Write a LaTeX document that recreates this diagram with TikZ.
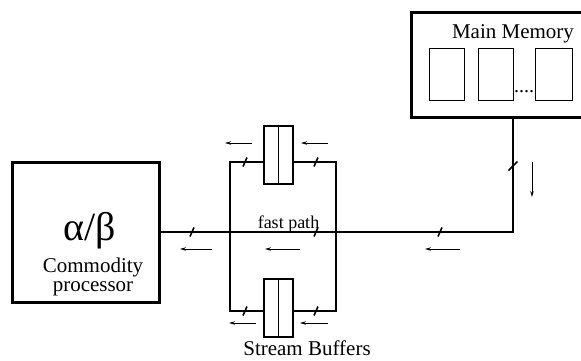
\documentclass[tikz,border=0pt]{standalone}
\usepackage{fontspec}
\setmainfont{Liberation Serif}
\usetikzlibrary{arrows.meta}
\tikzset{
  thickbox/.style={draw, line width=3pt, fill=white, inner sep=0pt},
  bufbox/.style={draw, line width=2.6pt, fill=white, inner sep=0pt, minimum width=29pt, minimum height=58pt},
  cell/.style={draw, line width=0.9pt, inner sep=0pt, minimum width=35pt, minimum height=52pt},
  wire/.style={line width=1.2pt},
  flow/.style={line width=0.9pt, -{Stealth[length=6pt,width=3.5pt]}},
  lbl/.style={inner sep=0pt, anchor=base, font=\fontsize{21}{24}\selectfont},
  hslash/.pic={\draw[line width=1.6pt] (-2,4.5)--(2,-4.5);},
  vslash/.pic={\draw[line width=1.6pt] (-4.5,4.5)--(4.5,-4.5);}
}
\begin{document}
\begin{tikzpicture}[x=1pt,y=-1pt]
\useasboundingbox (0,0) rectangle (581,360);
\clip (0,0) rectangle (581,360);
% main memory
\node[thickbox, minimum width=184pt, minimum height=105pt] (mem) at (503,64.5) {};
\node[lbl] (memt) at (513,38) {Main Memory};
\node[cell] (c1) at (446.5,74) {};
\node[cell] (c2) at (495.5,74) {};
\node[cell, minimum width=37pt] (c3) at (553.5,74) {};
\node[inner sep=0pt, anchor=base, font=\fontsize{20}{22}\selectfont] (dots) at (524,92) {....};
% commodity processor
\node[thickbox, minimum width=147pt, minimum height=140pt] (cp) at (85.5,232) {};
\node[lbl, font=\fontsize{40}{44}\selectfont] (ab) at (90,240) {α/β};
\node[lbl] (cpt1) at (93,272) {Commodity};
\node[lbl] (cpt2) at (93,291) {processor};
% wires
\coordinate (corner) at (513,232);
\draw[wire] (cp.east) -- (corner) -- (corner |- mem.south);
\coordinate (r1) at (230,162);
\coordinate (r2) at (336,162);
\coordinate (r3) at (336,311);
\coordinate (r4) at (230,311);
\draw[wire] (r1) -- (r2) -- (r3) -- (r4) -- cycle;
% stream buffers
\node[bufbox] (b1) at (278.5,155) {};
\draw[line width=0.9pt] (b1.north) -- (b1.south);
\node[bufbox] (b2) at (278.5,308) {};
\draw[line width=0.9pt] (b2.north) -- (b2.south);
\node[lbl] (sbt) at (307,355) {Stream Buffers};
\node[lbl, font=\fontsize{18}{20}\selectfont] (fp) at (288.5,228) {fast path};
% slashes
\pic at (192,232) {hslash};
\pic at (316,232) {hslash};
\pic at (440,232) {hslash};
\pic at (245,162) {hslash};
\pic at (316,162) {hslash};
\pic at (245,311) {hslash};
\pic at (316,311) {hslash};
\pic at (513,166) {vslash};
% flow arrows
\coordinate (a1s) at (212,249); \coordinate (a1e) at (180,249);
\coordinate (a2s) at (300,249); \coordinate (a2e) at (265,249);
\coordinate (a3s) at (460,249); \coordinate (a3e) at (425,249);
\coordinate (a4s) at (252,143); \coordinate (a4e) at (225,143);
\coordinate (a5s) at (328,143); \coordinate (a5e) at (301,143);
\coordinate (a6s) at (256,323); \coordinate (a6e) at (229,323);
\coordinate (a7s) at (328,323); \coordinate (a7e) at (300,323);
\coordinate (a8s) at (532,162); \coordinate (a8e) at (532,197);
\foreach \i in {1,...,8} {\draw[flow] (a\i s) -- (a\i e);}
\end{tikzpicture}
\end{document}
